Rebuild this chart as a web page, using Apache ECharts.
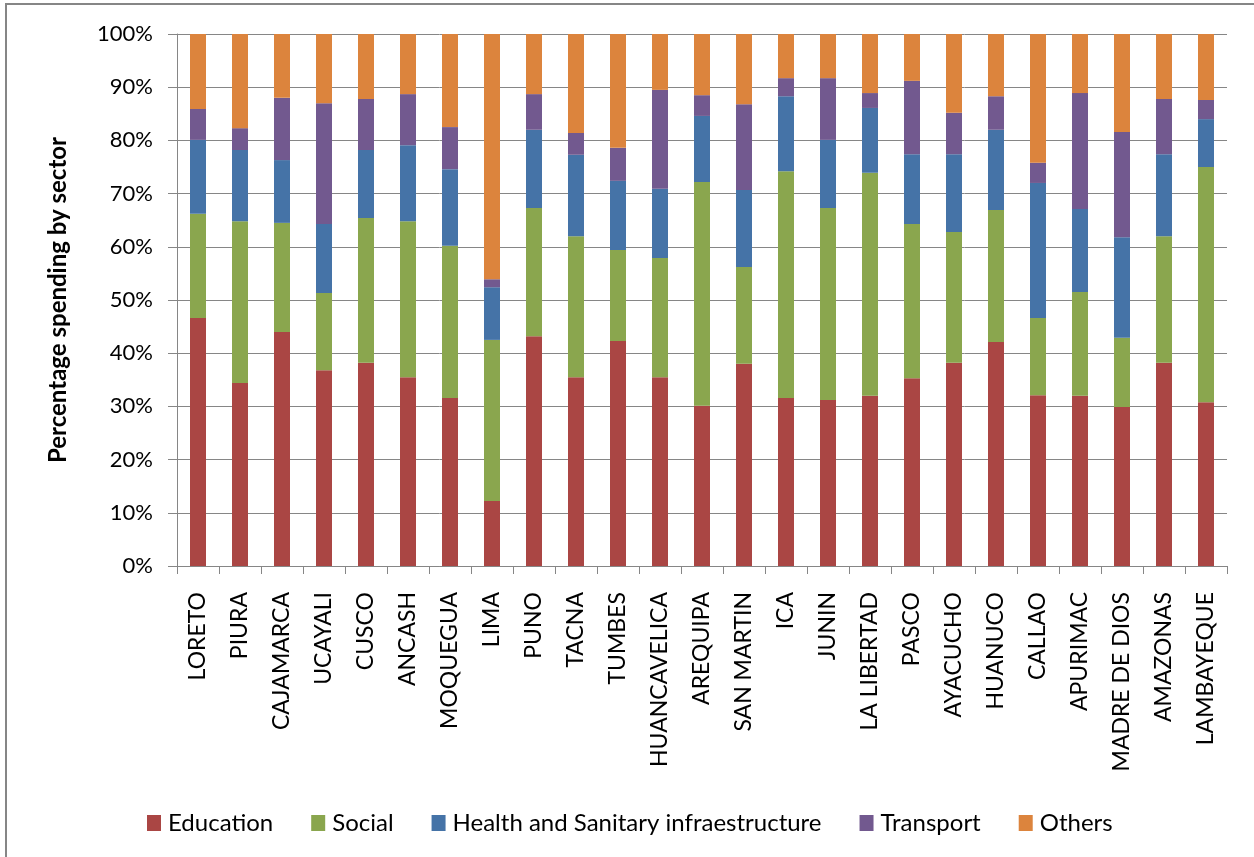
<!DOCTYPE html>
<html>
<head>
<meta charset="utf-8">
<title>Percentage spending by sector</title>
<script src="https://cdn.jsdelivr.net/npm/echarts@6/dist/echarts.min.js"></script>
<style>
  html, body { margin: 0; padding: 0; background: #fff; }
  #chart { width: 1254px; height: 857px; }
</style>
</head>
<body>
<div id="chart"></div>
<script>
// Regions (departments) in display order
const regions = ['LORETO', 'PIURA', 'CAJAMARCA', 'UCAYALI', 'CUSCO', 'ANCASH', 'MOQUEGUA', 'LIMA', 'PUNO', 'TACNA',
  'TUMBES', 'HUANCAVELICA', 'AREQUIPA', 'SAN MARTIN', 'ICA', 'JUNIN', 'LA LIBERTAD', 'PASCO', 'AYACUCHO', 'HUANUCO',
  'CALLAO', 'APURIMAC', 'MADRE DE DIOS', 'AMAZONAS', 'LAMBAYEQUE'];

// Share of spending per sector (%), one value per region
const education = [46.6, 34.4, 44.0, 36.8, 38.2, 35.5, 31.6, 12.2, 43.2, 35.5,
  42.3, 35.5, 30.1, 38.0, 31.6, 31.2, 32.0, 35.3, 38.2, 42.1,
  32.1, 32.0, 29.9, 38.2, 30.8];
const social = [19.6, 30.4, 20.5, 14.5, 27.2, 29.3, 28.6, 30.3, 24.1, 26.5,
  17.1, 22.4, 42.1, 18.2, 42.6, 36.1, 41.9, 29.0, 24.6, 24.8,
  14.5, 19.5, 13.0, 23.8, 44.2];
const health = [13.9, 13.4, 11.8, 13.0, 12.8, 14.3, 14.4, 9.9, 14.7, 15.3,
  13.0, 13.0, 12.4, 14.5, 14.1, 12.8, 12.2, 13.1, 14.6, 15.1,
  25.4, 15.6, 18.9, 15.4, 9.0];
const transport = [5.8, 4.1, 11.7, 22.7, 9.6, 9.6, 7.9, 1.5, 6.7, 4.1,
  6.2, 18.6, 3.9, 16.1, 3.4, 11.6, 2.8, 13.8, 7.8, 6.3,
  3.8, 21.8, 19.8, 10.4, 3.6];
const others = [14.1, 17.7, 12.0, 13.0, 12.2, 11.3, 17.5, 46.1, 11.3, 18.6,
  21.4, 10.5, 11.5, 13.2, 8.3, 8.3, 11.1, 8.8, 14.8, 11.7,
  24.2, 11.1, 18.4, 12.2, 12.4];

// Value axis ticks
const yMin = 0, yMax = 100, yStep = 10;

const sectors = [
  { name: 'Education', data: education, color: '#AA4644' },
  { name: 'Social', data: social, color: '#8AA64E' },
  { name: 'Health and Sanitary infraestructure', data: health, color: '#4573A7' },
  { name: 'Transport', data: transport, color: '#72598F' },
  { name: 'Others', data: others, color: '#DC843D' }
];

const FONT = 'Lato, "Open Sans", sans-serif';
const GRID_GREY = '#868686';

const chart = echarts.init(document.getElementById('chart'), null, { renderer: 'canvas' });

chart.setOption({
  backgroundColor: '#ffffff',
  animation: false,
  textStyle: { fontFamily: FONT, color: '#000' },
  graphic: [{
    type: 'rect',
    shape: { x: 6, y: 4, width: 1300, height: 900 },
    style: { fill: 'none', stroke: GRID_GREY, lineWidth: 2 },
    silent: true
  }],
  grid: { left: 177, right: 27, top: 34, bottom: 291 },
  legend: {
    left: 142,
    top: 806,
    itemWidth: 14,
    itemHeight: 16,
    itemGap: 38,
    icon: 'rect',
    textStyle: { fontFamily: FONT, fontSize: 24, color: '#000', padding: [0, 0, 0, 2] },
    data: sectors.map(s => s.name)
  },
  xAxis: {
    type: 'category',
    data: regions,
    axisLine: { lineStyle: { color: GRID_GREY, width: 1 } },
    axisTick: { show: true, alignWithLabel: false, length: 8, lineStyle: { color: GRID_GREY } },
    axisLabel: { rotate: 90, margin: 26, interval: 0, fontFamily: FONT, fontSize: 23, color: '#000' },
    splitLine: { show: false }
  },
  yAxis: {
    type: 'value',
    min: yMin,
    max: yMax,
    interval: yStep,
    name: 'Percentage spending by sector',
    nameLocation: 'middle',
    nameRotate: 90,
    nameGap: 107,
    nameTextStyle: { fontFamily: FONT, fontSize: 24, fontWeight: 'bold', color: '#000' },
    axisLine: { show: true, lineStyle: { color: GRID_GREY, width: 1 } },
    axisTick: { show: true, length: 9, lineStyle: { color: GRID_GREY } },
    axisLabel: { margin: 24, formatter: '{value}%', fontFamily: FONT, fontSize: 22, color: '#000' },
    splitLine: { show: true, lineStyle: { color: GRID_GREY, width: 1 } }
  },
  series: sectors.map(s => ({
    name: s.name,
    type: 'bar',
    stack: 'share',
    data: s.data,
    barWidth: 16,
    itemStyle: { color: s.color },
    emphasis: { disabled: true }
  }))
});
</script>
</body>
</html>
